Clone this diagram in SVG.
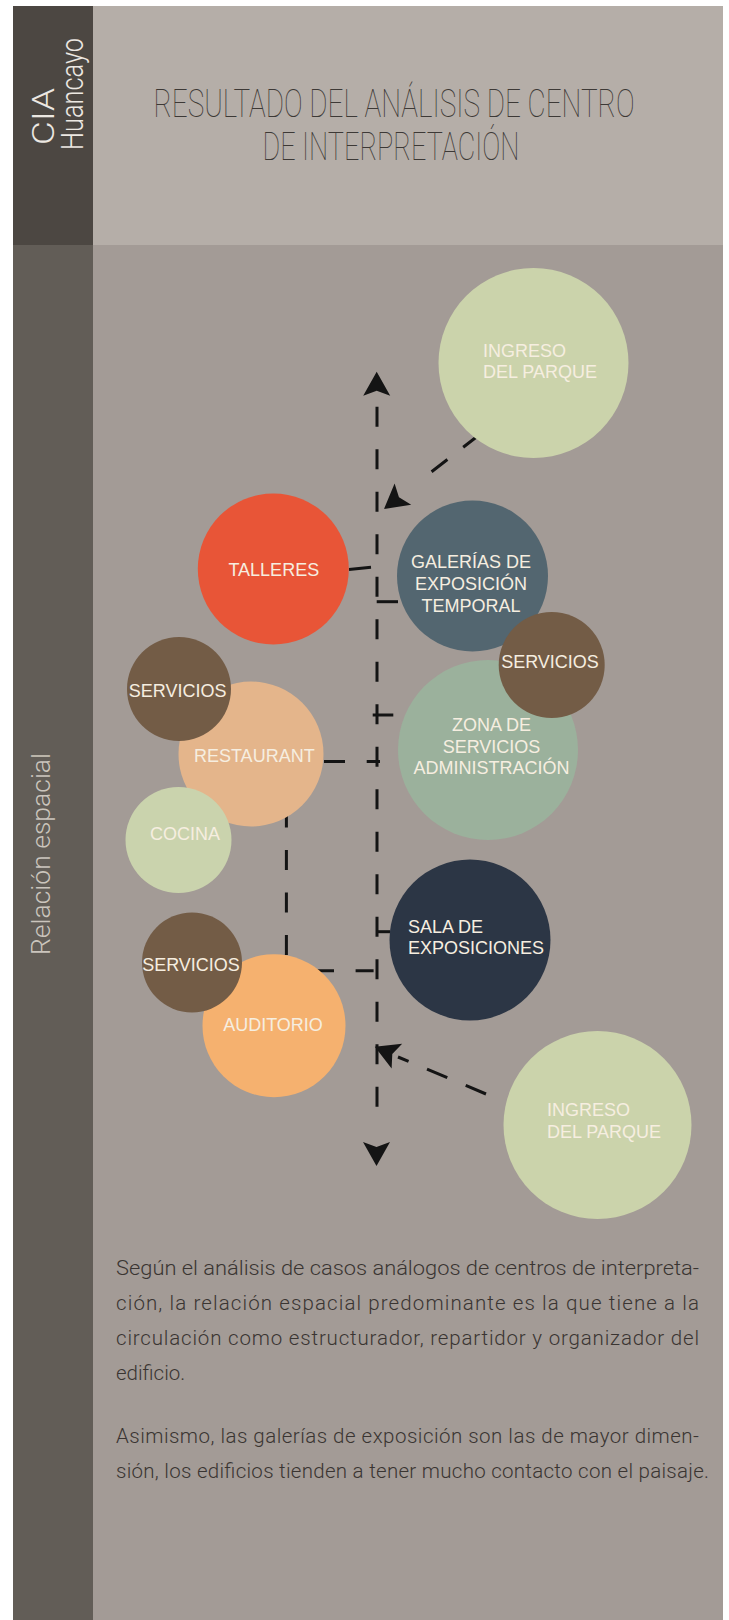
<svg xmlns="http://www.w3.org/2000/svg" xmlns:xlink="http://www.w3.org/1999/xlink" width="729" height="1620" viewBox="0 0 729 1620">
<style>
.lbl{font-family:"Liberation Sans",Arial,sans-serif;font-size:18px;fill:#f6eee0}
.mid{text-anchor:middle}
.tick{stroke:#141414;stroke-width:3;fill:none}
.dash{stroke:#141414;stroke-width:3;fill:none}
.title{font-family:Roboto,"Noto Sans",sans-serif;font-weight:100;font-size:29px;fill:#3d3936}
.body{font-family:Roboto,"Noto Sans",sans-serif;font-weight:300;font-size:20.5px;fill:#3a3532}
.side{font-family:Roboto,"Noto Sans",sans-serif;font-weight:300}
</style>
<defs>
<path id="ah" d="M0,0 L-13.5,24 L0,19 L13.5,24 Z" fill="#141414"/>
</defs>
<rect x="0" y="0" width="729" height="1620" fill="#ffffff"/>
<g id="background">
<rect x="13" y="6" width="710" height="239" fill="#b5aea8"/>
<rect x="13" y="6" width="80" height="239" fill="#4c4742"/>
<rect x="13" y="245" width="710" height="1375" fill="#a39b96"/>
<rect x="13" y="245" width="80" height="1375" fill="#625d57"/>
</g>
<g id="side-labels" class="side">
<text transform="translate(53.5,145) rotate(-90)" font-size="32" fill="#ece8e2" textLength="57" lengthAdjust="spacingAndGlyphs">CIA</text>
<text transform="translate(83,150) rotate(-90)" font-size="32" fill="#ece8e2" textLength="112" lengthAdjust="spacingAndGlyphs">Huancayo</text>
<text transform="translate(50,955) rotate(-90)" font-size="26" fill="#cbc5bd" textLength="202" lengthAdjust="spacingAndGlyphs">Relación espacial</text>
</g>
<g id="title">
<text class="title" transform="translate(153.5,116.5) scale(1,1.34)" textLength="481" lengthAdjust="spacingAndGlyphs">RESULTADO DEL ANÁLISIS DE CENTRO</text>
<text class="title" transform="translate(262.5,159.5) scale(1,1.34)" textLength="257" lengthAdjust="spacingAndGlyphs">DE INTERPRETACIÓN</text>
</g>
<g id="connectors">
<path class="dash" d="M377,391 V1125" stroke-dasharray="20 22.5" stroke-dashoffset="26.8"/>
<use xlink:href="#ah" href="#ah" transform="translate(376.7,371.7)"/>
<use xlink:href="#ah" href="#ah" transform="translate(376.5,1166) rotate(180)"/>
<path class="dash" d="M479,435 L421,480" stroke-dasharray="20 20"/>
<use xlink:href="#ah" href="#ah" transform="translate(384,509) rotate(-128)"/>
<path class="dash" d="M486,1094 L398,1057" stroke-dasharray="22 20"/>
<use xlink:href="#ah" href="#ah" transform="translate(374.8,1046.7) rotate(-67)"/>
<path class="tick" d="M349,569.5 L371,567.3"/>
<path class="tick" d="M376.7,601.7 H398"/>
<path class="tick" d="M372.7,715 H393.3"/>
<path class="tick" d="M376,931.7 H390"/>
<path class="dash" d="M324,761.5 H380" stroke-dasharray="21 21.7"/>
<path class="dash" d="M316,970.7 H376.3" stroke-dasharray="18 21.6"/>
<path class="dash" d="M286.4,807.5 V955" stroke-dasharray="20 22.5"/>
</g>
<g id="node-ingreso-top">
<circle cx="533.5" cy="363" r="95" fill="#cbd3ab"/>
<text class="lbl" x="483" y="356.7" fill="#f7f8f0">INGRESO</text>
<text class="lbl" x="483" y="377.7" fill="#f7f8f0">DEL PARQUE</text>
</g>
<g id="node-talleres">
<circle cx="273.3" cy="569" r="75.5" fill="#e85537"/>
<text class="lbl mid" x="273.8" y="576">TALLERES</text>
</g>
<g id="node-galerias">
<circle cx="472.5" cy="576" r="75.5" fill="#536670"/>
<text class="lbl mid" x="471" y="567.5">GALERÍAS DE</text>
<text class="lbl mid" x="471" y="589.5">EXPOSICIÓN</text>
<text class="lbl mid" x="471" y="611.5">TEMPORAL</text>
</g>
<g id="node-zona">
<circle cx="488" cy="750" r="90" fill="#9bb19c"/>
<text class="lbl mid" x="491.5" y="730.7">ZONA DE</text>
<text class="lbl mid" x="491.5" y="752.7">SERVICIOS</text>
<text class="lbl mid" x="491.5" y="774.3">ADMINISTRACIÓN</text>
</g>
<g id="node-servicios-right">
<circle cx="551.7" cy="665" r="53" fill="#735c46"/>
<text class="lbl mid" x="550" y="667.5">SERVICIOS</text>
</g>
<g id="node-restaurant">
<circle cx="251" cy="754" r="72.5" fill="#e4b58b"/>
<text class="lbl mid" x="254.3" y="761.7">RESTAURANT</text>
</g>
<g id="node-servicios-left">
<circle cx="179" cy="689" r="52" fill="#735c46"/>
<text class="lbl mid" x="177.7" y="697">SERVICIOS</text>
</g>
<g id="node-cocina">
<circle cx="178.5" cy="840" r="53" fill="#cad3ad"/>
<text class="lbl mid" x="185" y="840">COCINA</text>
</g>
<g id="node-sala">
<circle cx="470" cy="940" r="80.5" fill="#2c3645"/>
<text class="lbl" x="408" y="932.7" fill="#ececec">SALA DE</text>
<text class="lbl" x="408" y="954" fill="#ececec">EXPOSICIONES</text>
</g>
<g id="node-auditorio">
<circle cx="274" cy="1025.7" r="71.5" fill="#f5b16f"/>
<text class="lbl mid" x="273" y="1030.7">AUDITORIO</text>
</g>
<g id="node-servicios-bottom">
<circle cx="192" cy="962.5" r="50" fill="#735c46"/>
<text class="lbl mid" x="191" y="970.7">SERVICIOS</text>
</g>
<g id="node-ingreso-bottom">
<circle cx="597.5" cy="1125" r="94" fill="#cbd3ab"/>
<text class="lbl" x="547" y="1116" fill="#f7f8f0">INGRESO</text>
<text class="lbl" x="547" y="1138.3" fill="#f7f8f0">DEL PARQUE</text>
</g>
<g id="body-text" class="body">
<text x="116" y="1275" textLength="583" lengthAdjust="spacingAndGlyphs">Según el análisis de casos análogos de centros de interpreta-</text>
<text x="116" y="1310" textLength="583" lengthAdjust="spacing">ción, la relación espacial predominante es la que tiene a la</text>
<text x="116" y="1345" textLength="583" lengthAdjust="spacing">circulación como estructurador, repartidor y organizador del</text>
<text x="116" y="1380">edificio.</text>
<text x="116" y="1443" textLength="583" lengthAdjust="spacing">Asimismo, las galerías de exposición son las de mayor dimen-</text>
<text x="116" y="1478" textLength="593" lengthAdjust="spacing">sión, los edificios tienden a tener mucho contacto con el paisaje.</text>
</g>
</svg>
